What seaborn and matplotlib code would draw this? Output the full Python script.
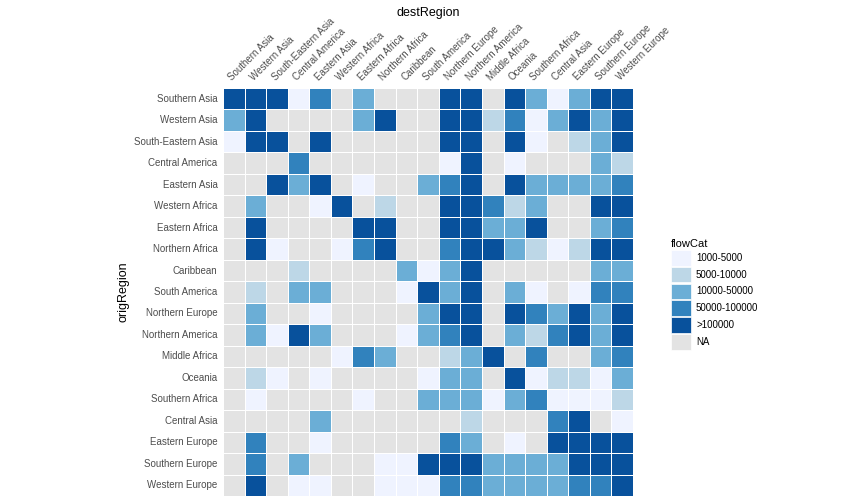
import pandas as pd
import numpy as np
import matplotlib
matplotlib.use('Agg')
import matplotlib.pyplot as plt
import seaborn as sns
from matplotlib.colors import ListedColormap
from matplotlib.patches import Patch

regions = ['Southern Asia', 'Western Asia', 'South-Eastern Asia', 'Central America', 'Eastern Asia',
           'Western Africa', 'Eastern Africa', 'Northern Africa', 'Caribbean', 'South America',
           'Northern Europe', 'Northern America', 'Middle Africa', 'Oceania', 'Southern Africa',
           'Central Asia', 'Eastern Europe', 'Southern Europe', 'Western Europe']
flow_cats = ['NA', '1000-5000', '5000-10000', '10000-50000', '50000-100000', '>100000']

# 0 = NA, 1..5 = flow category index, rows = origin, cols = destination
southern_asia = [5, 5, 5, 1, 4, 0, 3, 0, 0, 0, 5, 5, 0, 5, 3, 1, 3, 5, 5]
western_asia = [3, 5, 0, 0, 0, 0, 3, 5, 0, 0, 5, 5, 2, 4, 1, 3, 5, 3, 5]
south_eastern_asia = [1, 5, 5, 0, 5, 0, 0, 0, 0, 0, 5, 5, 0, 5, 1, 0, 2, 3, 5]
central_america = [0, 0, 0, 4, 0, 0, 0, 0, 0, 0, 1, 5, 0, 1, 0, 0, 0, 3, 2]
eastern_asia = [0, 0, 5, 3, 5, 0, 1, 0, 0, 3, 4, 5, 0, 5, 3, 3, 3, 3, 4]
western_africa = [0, 3, 0, 0, 1, 5, 0, 2, 0, 0, 5, 5, 4, 2, 3, 0, 0, 5, 5]
eastern_africa = [0, 5, 0, 0, 0, 0, 5, 5, 0, 0, 5, 5, 3, 3, 5, 0, 0, 3, 4]
northern_africa = [0, 5, 1, 0, 0, 1, 4, 5, 0, 0, 4, 5, 5, 3, 2, 1, 2, 5, 5]
caribbean = [0, 0, 0, 2, 0, 0, 0, 0, 3, 1, 3, 5, 0, 0, 0, 0, 0, 3, 3]
south_america = [0, 2, 0, 3, 3, 0, 0, 0, 1, 5, 3, 5, 0, 3, 1, 0, 1, 4, 4]
northern_europe = [0, 3, 0, 0, 1, 0, 0, 0, 0, 3, 5, 5, 0, 5, 4, 3, 5, 3, 5]
northern_america = [0, 3, 1, 5, 3, 0, 0, 0, 1, 3, 4, 5, 0, 3, 2, 4, 5, 3, 5]
middle_africa = [0, 0, 0, 0, 0, 1, 4, 3, 0, 0, 2, 3, 5, 0, 4, 0, 0, 3, 4]
oceania = [0, 2, 1, 0, 1, 0, 0, 0, 0, 1, 3, 3, 0, 5, 1, 2, 2, 1, 3]
southern_africa = [0, 1, 0, 0, 0, 0, 1, 0, 0, 3, 3, 3, 1, 3, 4, 1, 1, 1, 2]
central_asia = [0, 0, 0, 0, 3, 0, 0, 0, 0, 0, 0, 2, 0, 0, 0, 4, 5, 0, 1]
eastern_europe = [0, 4, 0, 0, 1, 0, 0, 0, 0, 0, 4, 3, 0, 1, 0, 5, 5, 5, 5]
southern_europe = [0, 4, 0, 3, 0, 0, 0, 1, 1, 5, 5, 5, 3, 3, 3, 3, 5, 5, 5]
western_europe = [0, 5, 0, 1, 1, 0, 0, 1, 1, 1, 4, 4, 3, 3, 3, 3, 4, 4, 5]

rows = [southern_asia, western_asia, south_eastern_asia, central_america, eastern_asia,
        western_africa, eastern_africa, northern_africa, caribbean, south_america,
        northern_europe, northern_america, middle_africa, oceania, southern_africa,
        central_asia, eastern_europe, southern_europe, western_europe]

df = pd.DataFrame(rows, index=regions, columns=regions)

colors = ['#e3e3e3', '#eff3ff', '#bdd7e7', '#6baed6', '#3182bd', '#08519c']
cmap = ListedColormap(colors)

plt.rcParams['font.family'] = ['Liberation Sans', 'DejaVu Sans']
fig = plt.figure(figsize=(8.64, 5.04), dpi=100)
ax = fig.add_axes([223/864, 8/504, 410/864, 408/504])
sns.heatmap(df, cmap=cmap, vmin=-0.5, vmax=5.5, cbar=False, linewidths=0.7,
            linecolor='white', ax=ax)

ax.xaxis.tick_top()
ax.set_xticklabels(regions, rotation=45, ha='left', rotation_mode='anchor',
                   fontsize=7, color='#4d4d4d')
ax.set_yticklabels(regions, rotation=0, fontsize=7, color='#4d4d4d')
ax.tick_params(length=0, pad=4)
ax.set_xlabel('')
ax.set_ylabel('origRegion', fontsize=9, labelpad=3)
fig.text(428/864, 1 - 13/504, 'destRegion', ha='center', va='center', fontsize=9)

handles = [Patch(facecolor=colors[i], edgecolor='white', linewidth=0.5, label=flow_cats[i])
           for i in [1, 2, 3, 4, 5, 0]]
leg = fig.legend(handles=handles, title='flowCat', loc='upper left',
                 bbox_to_anchor=(662/864, 1 - 230/504), frameon=False, fontsize=7,
                 title_fontsize=8, handlelength=2.1, handleheight=2.1,
                 labelspacing=0.12, handletextpad=0.5)
leg._legend_box.align = 'left'

plt.savefig('out.png', dpi=100)
